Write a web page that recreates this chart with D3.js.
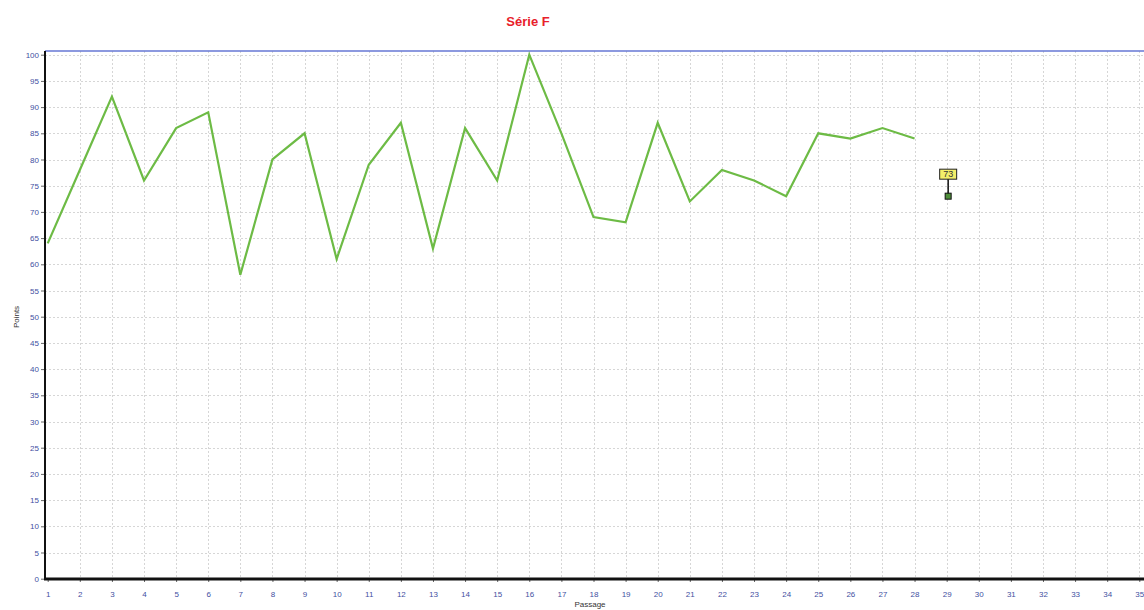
<!DOCTYPE html>
<html><head><meta charset="utf-8">
<script src="https://cdn.jsdelivr.net/npm/d3@7"></script>
<style>body{margin:0;background:#fff;} svg{display:block;font-family:"Liberation Sans",Arial,sans-serif;}</style>
</head><body>
<svg id="chart" width="1144" height="610"></svg>
<script>
const passages = [1,2,3,4,5,6,7,8,9,10,11,12,13,14,15,16,17,18,19,20,21,22,23,24,25,26,27,28];
const points   = [64,78,92,76,86,89,58,80,85,61,79,87,63,86,76,100,85,69,68,87,72,78,76,73,85,84,86,84];
const markerPassage = [29];
const markerValue = [73];
const xTicks = d3.range(1,36);
const yTicks = d3.range(0,101,5);
const title = "Série F";
const xLabel = "Passage";
const yLabel = "Points";

const svg = d3.select("#chart");
const x = d3.scaleLinear().domain([1,35]).range([47.7,1139.3]);
const y = d3.scaleLinear().domain([0,100]).range([578.7,54.7]);
const axisX = 45, topY = 51, baseY = 579;
const tickColor = "#3f4f9f";

// grid
const grid = svg.append("g").attr("stroke","#d6d6d6").attr("stroke-width",1).attr("stroke-dasharray","2,2");
grid.selectAll("line.v").data(xTicks.filter(d=>d>1)).join("line")
  .attr("x1",d=>Math.round(x(d))+0.5).attr("x2",d=>Math.round(x(d))+0.5)
  .attr("y1",topY).attr("y2",baseY);
grid.selectAll("line.h").data(yTicks.filter(d=>d>0)).join("line")
  .attr("x1",axisX).attr("x2",1144)
  .attr("y1",d=>Math.round(y(d))+0.5).attr("y2",d=>Math.round(y(d))+0.5);

// top border
svg.append("line").attr("x1",axisX).attr("x2",1144).attr("y1",topY).attr("y2",topY)
  .attr("stroke","#6677d4").attr("stroke-width",1.5);

// y axis
const yAxis = d3.axisLeft(y).tickValues(yTicks).tickSize(4).tickPadding(2);
const gy = svg.append("g").attr("transform",`translate(${axisX},0)`).call(yAxis);
gy.select(".domain").remove();
gy.selectAll(".tick line").attr("stroke","#666");
gy.selectAll(".tick text").attr("fill",tickColor).attr("font-size",8).attr("font-family","Liberation Sans, Arial, sans-serif");

// x axis
const xAxis = d3.axisBottom(x).tickValues(xTicks).tickSize(3).tickPadding(9);
const gx = svg.append("g").attr("transform",`translate(0,${baseY})`).call(xAxis);
gx.select(".domain").remove();
gx.selectAll(".tick line").attr("stroke","#666");
gx.selectAll(".tick text").attr("fill",tickColor).attr("font-size",8).attr("font-family","Liberation Sans, Arial, sans-serif");

// axis lines
svg.append("line").attr("x1",axisX).attr("x2",axisX).attr("y1",topY).attr("y2",baseY+1)
  .attr("stroke","#111").attr("stroke-width",2);
svg.append("line").attr("x1",axisX-1).attr("x2",1144).attr("y1",baseY).attr("y2",baseY)
  .attr("stroke","#111").attr("stroke-width",3);

// series line
const data = passages.map((p,i)=>({p, v:points[i]}));
svg.append("path").datum(data)
  .attr("fill","none").attr("stroke","#6dbb45").attr("stroke-width",2.2).attr("stroke-linejoin","miter")
  .attr("d", d3.line().x(d=>x(d.p)).y(d=>y(d.v)));

// marker with label
const mk = markerPassage.map((p,i)=>({p, v:markerValue[i]}));
const mg = svg.append("g").selectAll("g").data(mk).join("g");
mg.append("line").attr("x1",d=>x(d.p)+1.5).attr("x2",d=>x(d.p)+1.5)
  .attr("y1",d=>y(d.v)-18).attr("y2",d=>y(d.v)).attr("stroke","#111").attr("stroke-width",1.5);
mg.append("rect").attr("x",d=>x(d.p)-1.5).attr("y",d=>y(d.v)-3).attr("width",6).attr("height",6)
  .attr("fill","#4f8f3a").attr("stroke","#111").attr("stroke-width",1);
mg.append("rect").attr("x",d=>x(d.p)-7).attr("y",d=>y(d.v)-27).attr("width",17).attr("height",10)
  .attr("fill","#f3ef6a").attr("stroke","#222").attr("stroke-width",1);
mg.append("text").attr("x",d=>x(d.p)+1.5).attr("y",d=>y(d.v)-19).attr("text-anchor","middle")
  .attr("font-size",9).attr("fill","#333").text(d=>d.v);

// title & labels
svg.append("text").attr("x",528).attr("y",26).attr("text-anchor","middle")
  .attr("font-size",13).attr("font-weight","bold").attr("fill","#e8202a").text(title);
svg.append("text").attr("x",590).attr("y",607).attr("text-anchor","middle")
  .attr("font-size",8).attr("fill","#333").text(xLabel);
svg.append("text").attr("transform","translate(19,317) rotate(-90)").attr("text-anchor","middle")
  .attr("font-size",8).attr("fill","#333").text(yLabel);
</script>
</body></html>
